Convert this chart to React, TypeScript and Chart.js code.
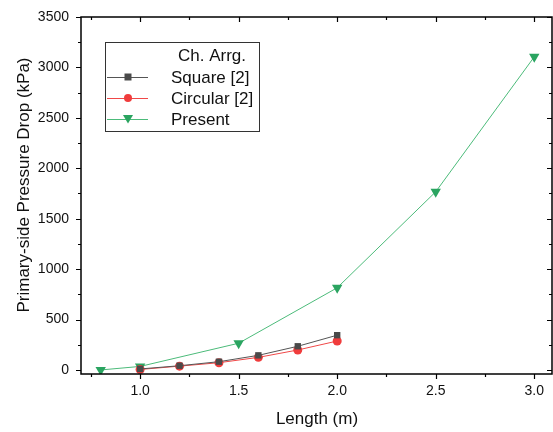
import React, { useEffect, useRef } from "react";
import { Chart, registerables } from "chart.js";

Chart.register(...registerables);

const lengthsRef = [1.0, 1.2, 1.4, 1.6, 1.8, 2.0];
const squareVals = [10, 42, 82, 145, 235, 345];
const circularVals = [5, 38, 72, 125, 198, 287];
const lengthsPresent = [0.8, 1.0, 1.5, 2.0, 2.5, 3.0];
const presentVals = [0, 35, 265, 815, 1767, 3105];

const xTicks = [1.0, 1.5, 2.0, 2.5, 3.0];
const yTicks = [0, 500, 1000, 1500, 2000, 2500, 3000, 3500];
const xMinorTicks = [0.75, 1.25, 1.75, 2.25, 2.75];
const yMinorTicks = [250, 750, 1250, 1750, 2250, 2750, 3250];

const seriesNames = ["Square [2]", "Circular [2]", "Present"];
const legendTitle = "Ch. Arrg.";
const xTitle = "Length (m)";
const yTitle = "Primary-side Pressure Drop (kPa)";

const FONT = "'Liberation Sans', Arial, sans-serif";

const colors = {
  squareLine: "#555555",
  squareMark: "#4a4a4a",
  circLine: "#f04848",
  circMark: "#f03c3c",
  presLine: "#4cbb7a",
  presMark: "#2aa460",
};

const framePlugin = {
  id: "framePlugin",
  afterDraw(chart: any) {
    const { ctx, chartArea: a, scales } = chart;
    const xs = scales.x;
    const ys = scales.y;
    ctx.save();
    ctx.strokeStyle = "#000";
    ctx.lineWidth = 1.5;
    ctx.strokeRect(a.left, a.top, a.right - a.left, a.bottom - a.top);
    ctx.lineWidth = 1.2;
    const major = 5;
    const minor = 3;
    const drawX = (v: number, len: number) => {
      const px = Math.round(xs.getPixelForValue(v)) + 0.5;
      ctx.beginPath();
      ctx.moveTo(px, a.bottom);
      ctx.lineTo(px, a.bottom + len);
      ctx.moveTo(px, a.top);
      ctx.lineTo(px, a.top + len);
      ctx.stroke();
    };
    const drawY = (v: number, len: number) => {
      const py = Math.round(ys.getPixelForValue(v)) + 0.5;
      ctx.beginPath();
      ctx.moveTo(a.left, py);
      ctx.lineTo(a.left - len, py);
      ctx.moveTo(a.right, py);
      ctx.lineTo(a.right - len, py);
      ctx.stroke();
    };
    xTicks.forEach((v) => drawX(v, major));
    xMinorTicks.forEach((v) => drawX(v, minor));
    yTicks.forEach((v) => drawY(v, major));
    yMinorTicks.forEach((v) => drawY(v, minor));

    // axis titles
    ctx.fillStyle = "#111";
    ctx.font = `17px ${FONT}`;
    ctx.textAlign = "center";
    ctx.textBaseline = "middle";
    ctx.fillText(xTitle, 317, 419);
    ctx.save();
    ctx.translate(24, 185);
    ctx.rotate(-Math.PI / 2);
    ctx.fillText(yTitle, 0, 0);
    ctx.restore();

    // legend
    const bx = 105, by = 42, bw = 154, bh = 89;
    ctx.fillStyle = "#fff";
    ctx.fillRect(bx, by, bw, bh);
    ctx.strokeStyle = "#333";
    ctx.lineWidth = 1;
    ctx.strokeRect(bx + 0.5, by + 0.5, bw, bh);
    ctx.fillStyle = "#111";
    ctx.font = `17px ${FONT}`;
    ctx.textAlign = "center";
    ctx.fillText(legendTitle, 212, 56);
    ctx.textAlign = "left";
    const rows = [77, 98, 119];
    const lineCols = [colors.squareLine, colors.circLine, colors.presLine];
    const markCols = [colors.squareMark, colors.circMark, colors.presMark];
    rows.forEach((ry, i) => {
      ctx.strokeStyle = lineCols[i];
      ctx.lineWidth = 1;
      ctx.beginPath();
      ctx.moveTo(107, ry + 0.5);
      ctx.lineTo(148, ry + 0.5);
      ctx.stroke();
      ctx.fillStyle = markCols[i];
      ctx.beginPath();
      if (i === 0) {
        ctx.rect(124.5, ry - 3.5, 7, 7);
      } else if (i === 1) {
        ctx.arc(128, ry, 4, 0, Math.PI * 2);
      } else {
        ctx.moveTo(123, ry - 4);
        ctx.lineTo(133, ry - 4);
        ctx.lineTo(128, ry + 4.5);
        ctx.closePath();
      }
      ctx.fill();
      ctx.fillStyle = "#111";
      ctx.fillText(seriesNames[i], 171, ry + 1);
    });
    ctx.restore();
  },
};

export default function App() {
  const ref = useRef<HTMLCanvasElement | null>(null);
  useEffect(() => {
    if (!ref.current) return;
    const chart = new Chart(ref.current, {
      type: "line",
      data: {
        datasets: [
          {
            label: seriesNames[0],
            data: lengthsRef.map((x, i) => ({ x, y: squareVals[i] })),
            borderColor: colors.squareLine,
            backgroundColor: colors.squareMark,
            pointBackgroundColor: colors.squareMark,
            pointBorderColor: colors.squareMark,
            pointStyle: "rect",
            pointRadius: 4.5,
            borderWidth: 1,
            pointBorderWidth: 0,
          },
          {
            label: seriesNames[1],
            data: lengthsRef.map((x, i) => ({ x, y: circularVals[i] })),
            borderColor: colors.circLine,
            backgroundColor: colors.circMark,
            pointBackgroundColor: colors.circMark,
            pointBorderColor: colors.circMark,
            pointStyle: "circle",
            pointRadius: 4.5,
            borderWidth: 1,
            pointBorderWidth: 0,
          },
          {
            label: seriesNames[2],
            data: lengthsPresent.map((x, i) => ({ x, y: presentVals[i] })),
            borderColor: colors.presLine,
            backgroundColor: colors.presMark,
            pointBackgroundColor: colors.presMark,
            pointBorderColor: colors.presMark,
            pointStyle: "triangle",
            pointRotation: 180,
            pointRadius: 6,
            borderWidth: 1,
            pointBorderWidth: 0,
          },
        ],
      },
      options: {
        animation: false,
        responsive: true,
        maintainAspectRatio: false,
        layout: { autoPadding: false, padding: { top: 17, right: 1, left: 0, bottom: 0 } },
        plugins: { legend: { display: false }, tooltip: { enabled: false } },
        scales: {
          x: {
            type: "linear",
            min: 0.7,
            max: 3.09,
            grid: { display: false, drawTicks: false },
            border: { display: false },
            afterBuildTicks: (s: any) => {
              s.ticks = xTicks.map((v) => ({ value: v }));
            },
            afterFit: (s: any) => {
              s.height = 58;
              s.paddingLeft = 0;
              s.paddingRight = 0;
            },
            ticks: {
              padding: 9,
              color: "#111",
              font: { family: FONT, size: 14 },
              callback: (v: any) => Number(v).toFixed(1),
              maxRotation: 0,
            },
          },
          y: {
            type: "linear",
            min: -40,
            max: 3500,
            grid: { display: false, drawTicks: false },
            border: { display: false },
            afterBuildTicks: (s: any) => {
              s.ticks = yTicks.map((v) => ({ value: v }));
            },
            afterFit: (s: any) => {
              s.width = 81;
              s.paddingTop = 0;
              s.paddingBottom = 0;
            },
            ticks: {
              padding: 12,
              color: "#111",
              font: { family: FONT, size: 14 },
              callback: (v: any) => String(v),
            },
          },
        },
      },
      plugins: [framePlugin],
    } as any);
    return () => chart.destroy();
  }, []);
  return (
    <div style={{ position: "absolute", left: 0, top: 0, width: 553, height: 432 }}>
      <canvas ref={ref} />
    </div>
  );
}
